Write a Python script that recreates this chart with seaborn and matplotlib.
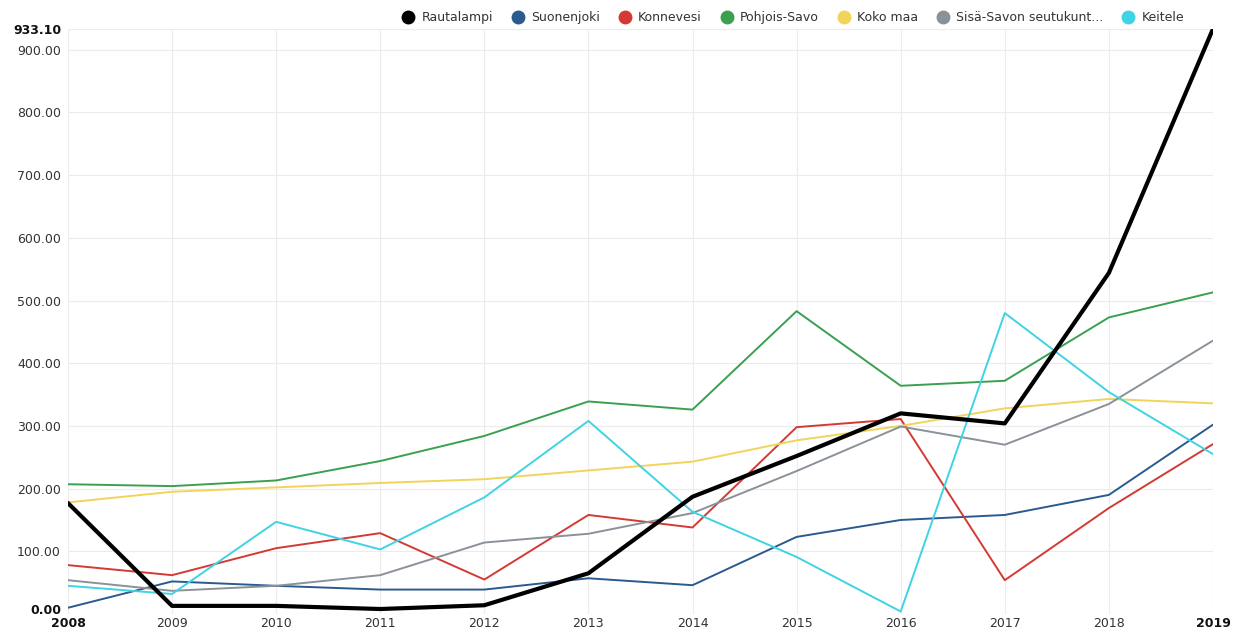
import pandas as pd
import matplotlib
matplotlib.use("Agg")
import matplotlib.pyplot as plt
import seaborn as sns
from matplotlib.lines import Line2D

# values
years = list(range(2008, 2020))
rautalampi = [177, 13, 13, 8, 14, 65, 187, 252, 320, 304, 544, 933.1]
suonenjoki = [10, 52, 45, 39, 39, 57, 46, 123, 150, 158, 190, 302]
konnevesi = [78, 62, 105, 129, 55, 158, 138, 298, 311, 54, 169, 271]
pohjois_savo = [207, 204, 213, 244, 284, 339, 326, 483, 364, 372, 473, 513]
koko_maa = [178, 195, 202, 209, 215, 229, 243, 277, 300, 328, 343, 336]
sisa_savo = [54, 37, 45, 62, 114, 128, 161, 228, 299, 270, 335, 436]
keitele = [45, 32, 147, 103, 186, 308, 163, 91, 4, 480, 354, 255]

series_names = ["Rautalampi", "Suonenjoki", "Konnevesi", "Pohjois-Savo",
                "Koko maa", "Sisä-Savon seutukunt...", "Keitele"]
series_values = [rautalampi, suonenjoki, konnevesi, pohjois_savo,
                 koko_maa, sisa_savo, keitele]
colors = ["#000000", "#2b5a8e", "#d33a34", "#3aa050", "#f2d45a", "#8a9199", "#3fd3e3"]
y_ticks = [0, 100, 200, 300, 400, 500, 600, 700, 800, 900, 933.1]

sns.set_style("white")
plt.rcParams["font.family"] = ["DejaVu Sans"]

fig = plt.figure(figsize=(12.4, 6.29), dpi=100)
ax = fig.add_axes([0.0548, 0.0238, 0.9234, 0.9302])

# draw thin lines first, black series on top
order = list(range(1, len(series_names))) + [0]
for i in order:
    df = pd.DataFrame({"year": years, "value": series_values[i]})
    sns.lineplot(data=df, x="year", y="value", ax=ax, color=colors[i],
                 linewidth=3.0 if i == 0 else 1.4, zorder=5 if i == 0 else 3)

ax.set_xlim(years[0], years[-1])
ax.set_ylim(0, max(rautalampi))
ax.set_xticks(years)
ax.set_yticks(y_ticks)
ax.set_yticklabels([f"{v:.2f}" for v in y_ticks])
ax.set_xticklabels([str(y) for y in years])
ax.set_xlabel("")
ax.set_ylabel("")
for s in ax.spines.values():
    s.set_visible(False)
ax.grid(True, color="#ececec", linewidth=0.8)
ax.tick_params(axis="both", length=0, labelsize=9, colors="#333333")
ax.tick_params(axis="y", pad=5)
ax.tick_params(axis="x", pad=2)

for lbl in ax.get_yticklabels():
    if lbl.get_text() in ("0.00", "933.10"):
        lbl.set_fontweight("bold")
        lbl.set_color("#111111")
    if lbl.get_text() == "0.00":
        # sit on the baseline so it stays clear of the year labels
        lbl.set_verticalalignment("baseline")
for lbl in ax.get_xticklabels():
    if lbl.get_text() in (str(years[0]), str(years[-1])):
        lbl.set_fontweight("bold")
        lbl.set_color("#111111")

handles = [Line2D([], [], marker="o", linestyle="", markersize=9,
                  markerfacecolor=c, markeredgecolor=c) for c in colors]
fig.legend(handles, series_names, loc="center", bbox_to_anchor=(0.637, 0.972),
           ncol=7, frameon=False, fontsize=9, handletextpad=0.05,
           columnspacing=1.0, labelcolor="#333333")

fig.savefig("out.png", dpi=100)
